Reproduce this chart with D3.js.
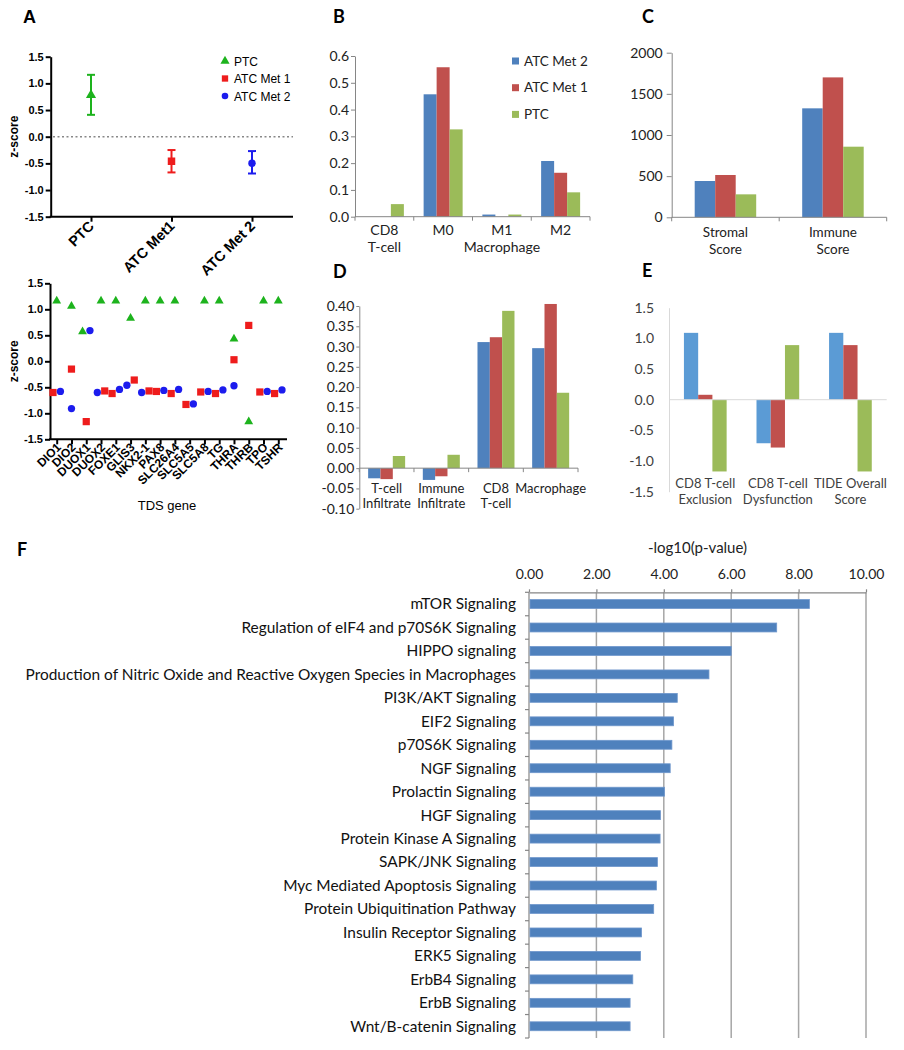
<!DOCTYPE html>
<html><head><meta charset="utf-8">
<script src="https://cdn.jsdelivr.net/npm/d3@7"></script>
<style>body{margin:0;background:#fff} svg{display:block}</style>
</head><body>
<script>
// ---------------- DATA ----------------
// Panel A (top): mean z-score with error range
const aGroups = ["PTC", "ATC Met1", "ATC Met 2"];
const aMean = [0.78, -0.46, -0.50];
const aLow = [0.41, -0.67, -0.69];
const aHigh = [1.16, -0.25, -0.27];
const aLegend = ["PTC", "ATC Met 1", "ATC Met 2"];
const zTicks = [-1.5, -1.0, -0.5, 0.0, 0.5, 1.0, 1.5];

// Panel A (bottom): TDS genes
const tdsGenes = ["DIO1","DIO2","DUOX1","DUOX2","FOXE1","GLIS3","NKX2-1","PAX8","SLC26A4","SLC5A5","SLC5A8","TG","THRA","THRB","TPO","TSHR"];
const tdsPTC  = [1.16, 1.06, 0.57, 1.16, 1.16, 0.83, 1.16, 1.16, 1.16, null, 1.16, 1.16, 0.43, -1.16, 1.16, 1.16];
const tdsMet1 = [-0.60, -0.15, -1.16, -0.57, -0.62, -0.36, -0.57, -0.58, -0.62, -0.83, -0.59, -0.62, 0.03, 0.69, -0.59, -0.62];
const tdsMet2 = [-0.58, -0.91, 0.59, -0.60, -0.54, -0.46, -0.60, -0.56, -0.54, -0.82, -0.58, -0.55, -0.47, null, -0.58, -0.55];

// Panels B-E series order
const barSeries = ["ATC Met 2", "ATC Met 1", "PTC"];

// Panel B
const bCats = [["CD8", "T-cell"], ["M0"], ["M1", "Macrophage"], ["M2"]];
const bMet2 = [0, 0.457, 0.008, 0.208];
const bMet1 = [0, 0.558, 0, 0.164];
const bPTC  = [0.047, 0.326, 0.008, 0.091];
const bTicks = [0, 0.1, 0.2, 0.3, 0.4, 0.5, 0.6];

// Panel C
const cCats = [["Stromal", "Score"], ["Immune", "Score"]];
const cMet2 = [441, 1324];
const cMet1 = [514, 1700];
const cPTC  = [279, 858];
const cTicks = [0, 500, 1000, 1500, 2000];

// Panel D
const dCats = [["T-cell", "Infiltrate"], ["Immune", "Infiltrate"], ["CD8", "T-cell"], ["Macrophage"]];
const dMet2 = [-0.025, -0.029, 0.311, 0.296];
const dMet1 = [-0.027, -0.020, 0.323, 0.405];
const dPTC  = [0.030, 0.033, 0.388, 0.186];
const dTicks = [-0.10, -0.05, 0.00, 0.05, 0.10, 0.15, 0.20, 0.25, 0.30, 0.35, 0.40];

// Panel E
const eCats = [["CD8 T-cell", "Exclusion"], ["CD8 T-cell", "Dysfunction"], ["TIDE Overall", "Score"]];
const eMet2 = [1.09, -0.71, 1.09];
const eMet1 = [0.08, -0.78, 0.89];
const ePTC  = [-1.17, 0.89, -1.17];
const eTicks = [-1.5, -1.0, -0.5, 0.0, 0.5, 1.0, 1.5];

// Panel F
const fPathways = ["mTOR Signaling","Regulation of eIF4 and p70S6K Signaling","HIPPO signaling",
 "Production of Nitric Oxide and Reactive Oxygen Species in Macrophages","PI3K/AKT Signaling","EIF2 Signaling",
 "p70S6K Signaling","NGF Signaling","Prolactin Signaling","HGF Signaling","Protein Kinase A Signaling",
 "SAPK/JNK Signaling","Myc Mediated Apoptosis Signaling","Protein Ubiquitination Pathway","Insulin Receptor Signaling",
 "ERK5 Signaling","ErbB4 Signaling","ErbB Signaling","Wnt/B-catenin Signaling"];
const fValues = [8.32, 7.35, 6.00, 5.34, 4.40, 4.29, 4.24, 4.19, 4.02, 3.90, 3.89, 3.81, 3.78, 3.70, 3.34, 3.31, 3.08, 3.00, 3.00];
const fTicks = [0, 2, 4, 6, 8, 10];

// ---------------- STYLE ----------------
const ARIAL = "'Liberation Sans', Arial, sans-serif";
const CAL = "Lato, 'Open Sans', sans-serif";
const GREEN = "#1db31d", RED = "#ee1c1c", BLUE = "#1c1cee";
const XL = ["#4f81bd", "#c0504d", "#9bbb59"];
const XL2 = ["#5b9bd5", "#c0504d", "#9bbb59"];

const svg = d3.select("body").append("svg").attr("width", 904).attr("height", 1050);

function label(txt, x, y, font, size) {
  svg.append("text").attr("x", x).attr("y", y).text(txt)
    .attr("font-family", font).attr("font-weight", "bold").attr("font-size", size).attr("fill", "#000");
}
const sym = {
  tri: d3.symbol().type(d3.symbolTriangle),
  sq: d3.symbol().type(d3.symbolSquare),
  circ: d3.symbol().type(d3.symbolCircle)
};
function styleAxisA(sel) {
  sel.selectAll("path,line").attr("stroke", "#000").attr("stroke-width", 2);
  sel.selectAll("text").attr("font-family", ARIAL).attr("font-weight", "bold").attr("font-size", 11).attr("fill", "#000");
}

// ---------------- PANEL A TOP ----------------
label("A", 23, 23, ARIAL, 18);
{
  const g = svg.append("g");
  const y = d3.scaleLinear().domain([-1.5, 1.5]).range([216.7, 56.7]);
  const x = d3.scalePoint().domain(aGroups).range([91, 252]);
  g.append("line").attr("x1", 53).attr("x2", 293).attr("y1", y(0)).attr("y2", y(0))
    .attr("stroke", "#888").attr("stroke-width", 1.5).attr("stroke-dasharray", "2,2.5");
  const ya = g.append("g").attr("transform", "translate(50.7,0)")
    .call(d3.axisLeft(y).tickValues(zTicks).tickFormat(d => d.toFixed(1)).tickSize(5).tickPadding(2).tickSizeOuter(0));
  styleAxisA(ya);
  const xa = g.append("g").attr("transform", `translate(0,${y(-1.5)})`)
    .call(d3.axisBottom(x).tickSize(5).tickSizeOuter(0).tickFormat(""));
  xa.select(".domain").remove();
  styleAxisA(xa);
  g.append("line").attr("x1", 49.7).attr("x2", 293).attr("y1", y(-1.5)).attr("y2", y(-1.5)).attr("stroke", "#000").attr("stroke-width", 2);
  const cols = [GREEN, RED, BLUE];
  const shapes = [sym.tri.size(45), sym.sq.size(56), sym.circ.size(44)];
  aGroups.forEach((gname, i) => {
    const cx = x(gname);
    g.append("line").attr("x1", cx).attr("x2", cx).attr("y1", y(aLow[i])).attr("y2", y(aHigh[i])).attr("stroke", cols[i]).attr("stroke-width", 2);
    [aLow[i], aHigh[i]].forEach(v => g.append("line").attr("x1", cx - 4).attr("x2", cx + 4).attr("y1", y(v)).attr("y2", y(v)).attr("stroke", cols[i]).attr("stroke-width", 2));
    g.append("path").attr("d", shapes[i]()).attr("transform", `translate(${cx},${y(aMean[i])})`).attr("fill", cols[i]);
  });
  g.selectAll(".alab").data(aGroups).join("text")
    .attr("transform", d => `translate(${x(d) + 4},227) rotate(-45)`)
    .attr("text-anchor", "end").attr("font-family", ARIAL).attr("font-weight", "bold").attr("font-size", 14.5).text(d => d);
  // legend
  const legShapes = [sym.tri.size(36), sym.sq.size(40), sym.circ.size(34)];
  aLegend.forEach((t, i) => {
    const ly = 61 + i * 17.5;
    g.append("path").attr("d", legShapes[i]()).attr("transform", `translate(225,${ly})`).attr("fill", cols[i]);
    g.append("text").attr("x", 234).attr("y", ly + 4.5).text(t).attr("font-family", ARIAL).attr("font-size", 12);
  });
  g.append("text").attr("transform", `translate(18,${y(0)}) rotate(-90)`).attr("text-anchor", "middle")
    .attr("font-family", ARIAL).attr("font-weight", "bold").attr("font-size", 12).text("z-score");
}

// ---------------- PANEL A BOTTOM ----------------
{
  const g = svg.append("g");
  const y = d3.scaleLinear().domain([-1.5, 1.5]).range([439.3, 283.3]);
  const x = d3.scalePoint().domain(tdsGenes).range([56.7, 278.3]);
  const ya = g.append("g").attr("transform", "translate(50,0)")
    .call(d3.axisLeft(y).tickValues(zTicks).tickFormat(d => d.toFixed(1)).tickSize(5).tickPadding(2).tickSizeOuter(0));
  styleAxisA(ya);
  const xa = g.append("g").attr("transform", `translate(0,${y(-1.5)})`)
    .call(d3.axisBottom(x).tickSize(5).tickSizeOuter(0).tickFormat(""));
  xa.select(".domain").remove();
  styleAxisA(xa);
  g.append("line").attr("x1", 49).attr("x2", 287).attr("y1", y(-1.5)).attr("y2", y(-1.5)).attr("stroke", "#000").attr("stroke-width", 2);

  const series = [
    { vals: tdsPTC, shape: sym.tri.size(34), color: GREEN },
    { vals: tdsMet1, shape: sym.sq.size(52), color: RED },
    { vals: tdsMet2, shape: sym.circ.size(42), color: BLUE }
  ];
  const pts = [];
  tdsGenes.forEach((gene, i) => {
    const items = series.map((s, si) => ({ gene, si, v: s.vals[i] })).filter(d => d.v != null);
    items.sort((a, b) => a.v - b.v);
    const clusters = [];
    items.forEach(it => {
      const last = clusters[clusters.length - 1];
      if (last && it.v - last[last.length - 1].v < 0.15) last.push(it); else clusters.push([it]);
    });
    clusters.forEach(c => c.forEach((it, k) => { it.dx = (k - (c.length - 1) / 2) * 7.4; pts.push(it); }));
  });
  pts.sort((a, b) => a.si - b.si);
  g.selectAll(".pt").data(pts).join("path")
    .attr("d", d => series[d.si].shape())
    .attr("transform", d => `translate(${x(d.gene) + d.dx},${y(d.v)})`)
    .attr("fill", d => series[d.si].color);
  g.selectAll(".glab").data(tdsGenes).join("text")
    .attr("transform", d => `translate(${x(d) + 5},448) rotate(-45)`)
    .attr("text-anchor", "end").attr("font-family", ARIAL).attr("font-weight", "bold").attr("font-size", 12).text(d => d);
  g.append("text").attr("transform", `translate(18,${y(0)}) rotate(-90)`).attr("text-anchor", "middle")
    .attr("font-family", ARIAL).attr("font-weight", "bold").attr("font-size", 12).text("z-score");
  g.append("text").attr("x", 167).attr("y", 510).attr("text-anchor", "middle")
    .attr("font-family", ARIAL).attr("font-size", 13).text("TDS gene");
}

// ---------------- GROUPED BAR PANELS ----------------
function barPanel(o) {
  const g = svg.append("g");
  const y = d3.scaleLinear().domain(o.domain).range([o.yBottom, o.yTop]);
  const xb = d3.scaleBand().domain(d3.range(o.cats.length)).range([o.x0, o.x1]);
  const xs = d3.scaleBand().domain(d3.range(o.series.length)).range([0, o.groupW]);
  const ya = g.append("g").attr("transform", `translate(${o.x0},0)`)
    .call(d3.axisLeft(y).tickValues(o.ticks).tickFormat(o.fmt).tickSize(o.tickSize).tickPadding(o.tickPad).tickSizeOuter(0));
  ya.selectAll("path,line").attr("stroke", o.axisColor).attr("stroke-width", 1);
  ya.selectAll("text").attr("font-family", CAL).attr("font-size", 14).attr("fill", o.textColor);
  o.series.forEach((vals, si) => {
    g.selectAll(null).data(vals).join("rect")
      .attr("x", (d, i) => xb(i) + (xb.bandwidth() - o.groupW) / 2 + xs(si))
      .attr("width", xs.bandwidth())
      .attr("y", d => y(Math.max(0, d)))
      .attr("height", d => Math.abs(y(d) - y(0)))
      .attr("fill", o.colors[si]);
  });
  g.append("line").attr("x1", o.x0).attr("x2", o.x1).attr("y1", y(0)).attr("y2", y(0))
    .attr("stroke", o.axisColor).attr("stroke-width", 1);
  if (o.xTick) {
    d3.range(o.cats.length + 1).forEach(i => {
      const xx = i < o.cats.length ? xb(i) : o.x1;
      g.append("line").attr("x1", xx).attr("x2", xx).attr("y1", y(0)).attr("y2", y(0) + 4).attr("stroke", o.axisColor);
    });
  }
  o.cats.forEach((lines, i) => lines.forEach((t, k) => {
    g.append("text").attr("x", xb(i) + xb.bandwidth() / 2).attr("y", o.labelY[k]).attr("dy", "0.35em")
      .attr("text-anchor", "middle").attr("font-family", CAL).attr("font-size", o.labelSize).attr("fill", o.textColor).text(t);
  }));
  return { g, y, xb };
}

// Panel B
label("B", 333, 23, CAL, 18);
{
  const p = barPanel({ domain: [0, 0.6], yBottom: 216.7, yTop: 56, x0: 355, x1: 590, cats: bCats,
    series: [bMet2, bMet1, bPTC], colors: XL, groupW: 39, ticks: bTicks, fmt: d => d.toFixed(1),
    tickSize: 4, tickPad: 2, axisColor: "#868686", textColor: "#222", xTick: true, labelY: [230, 247], labelSize: 14 });
  barSeries.forEach((s, i) => {
    const ly = 61 + i * 26.7;
    p.g.append("rect").attr("x", 512).attr("y", ly - 3.5).attr("width", 7).attr("height", 7).attr("fill", XL[i]);
    p.g.append("text").attr("x", 524).attr("y", ly).attr("dy", "0.35em").attr("font-family", CAL).attr("font-size", 13.5).attr("fill", "#222").text(s);
  });
}
// Panel C
label("C", 642, 23, CAL, 18);
barPanel({ domain: [0, 2000], yBottom: 217.3, yTop: 52.7, x0: 671.7, x1: 886.7, cats: cCats,
  series: [cMet2, cMet1, cPTC], colors: XL, groupW: 61.5, ticks: cTicks, fmt: d => String(d),
  tickSize: 5, tickPad: 4, axisColor: "#868686", textColor: "#222", xTick: true, labelY: [232, 249], labelSize: 13.5 });
// Panel D
label("D", 333, 278, CAL, 18);
barPanel({ domain: [-0.10, 0.40], yBottom: 508.7, yTop: 306, x0: 359.3, x1: 578, cats: dCats,
  series: [dMet2, dMet1, dPTC], colors: XL, groupW: 37, ticks: dTicks, fmt: d => d.toFixed(2),
  tickSize: 3, tickPad: 2, axisColor: "#868686", textColor: "#222", xTick: true, labelY: [488, 503.5], labelSize: 13 });
// Panel E
label("E", 642, 277, CAL, 18);
barPanel({ domain: [-1.5, 1.5], yBottom: 491.7, yTop: 307.7, x0: 669, x1: 886.7, cats: eCats,
  series: [eMet2, eMet1, ePTC], colors: XL2, groupW: 42.7, ticks: eTicks, fmt: d => d.toFixed(1),
  tickSize: 0, tickPad: 15, axisColor: "#d9d9d9", textColor: "#404040", xTick: false, labelY: [483, 499], labelSize: 13 });

// ---------------- PANEL F ----------------
label("F", 17, 556, CAL, 18);
{
  const g = svg.append("g");
  const x = d3.scaleLinear().domain([0, 10]).range([529, 866]);
  const y = d3.scaleBand().domain(fPathways).range([592.3, 1038]).paddingInner(0.62).paddingOuter(0.31);
  const yTop = 592.3, yBot = 1038;
  // gridlines
  g.selectAll(".grid").data(fTicks.slice(1)).join("line")
    .attr("x1", d => x(d)).attr("x2", d => x(d)).attr("y1", yTop).attr("y2", yBot)
    .attr("stroke", "#a6a6a6").attr("stroke-width", 1.5);
  // top axis
  const xa = g.append("g").attr("transform", `translate(0,${yTop})`)
    .call(d3.axisTop(x).tickValues(fTicks).tickFormat(d => d.toFixed(2)).tickSize(3).tickPadding(10).tickSizeOuter(0));
  xa.selectAll("path,line").attr("stroke", "#868686").attr("stroke-width", 1.2);
  xa.selectAll("text").attr("font-family", CAL).attr("font-size", 14).attr("fill", "#222");
  // left axis line and category ticks
  g.append("line").attr("x1", x(0)).attr("x2", x(0)).attr("y1", yTop).attr("y2", yBot).attr("stroke", "#868686").attr("stroke-width", 1.2);
  d3.range(fPathways.length + 1).forEach(i => {
    const yy = yTop + i * y.step();
    g.append("line").attr("x1", x(0) - 4).attr("x2", x(0)).attr("y1", yy).attr("y2", yy).attr("stroke", "#868686").attr("stroke-width", 1.2);
  });
  // bars
  g.selectAll(".bar").data(fPathways).join("rect")
    .attr("x", x(0) + 1).attr("y", d => y(d))
    .attr("width", (d, i) => x(fValues[i]) - x(0) - 1).attr("height", y.bandwidth())
    .attr("fill", "#4f81bd").attr("stroke", "#6f97cc").attr("stroke-width", 0.8);
  // labels
  const labs = g.selectAll(".flab").data(fPathways).join("text")
    .attr("x", 516).attr("y", d => y(d) + y.bandwidth() / 2).attr("dy", "0.35em")
    .attr("text-anchor", "end").attr("font-family", CAL).attr("font-size", 16).attr("fill", "#111").text(d => d);
  // fit longest label to its width in the reference
  let maxLen = 0;
  labs.each(function () { maxLen = Math.max(maxLen, this.getComputedTextLength()); });
  if (maxLen > 0) labs.attr("font-size", 16 * 491 / maxLen);
  g.append("text").attr("x", (x(0) + x(10)) / 2).attr("y", 553).attr("text-anchor", "middle")
    .attr("font-family", CAL).attr("font-size", 15).attr("fill", "#222").text("-log10(p-value)");
}
</script>
</body></html>
